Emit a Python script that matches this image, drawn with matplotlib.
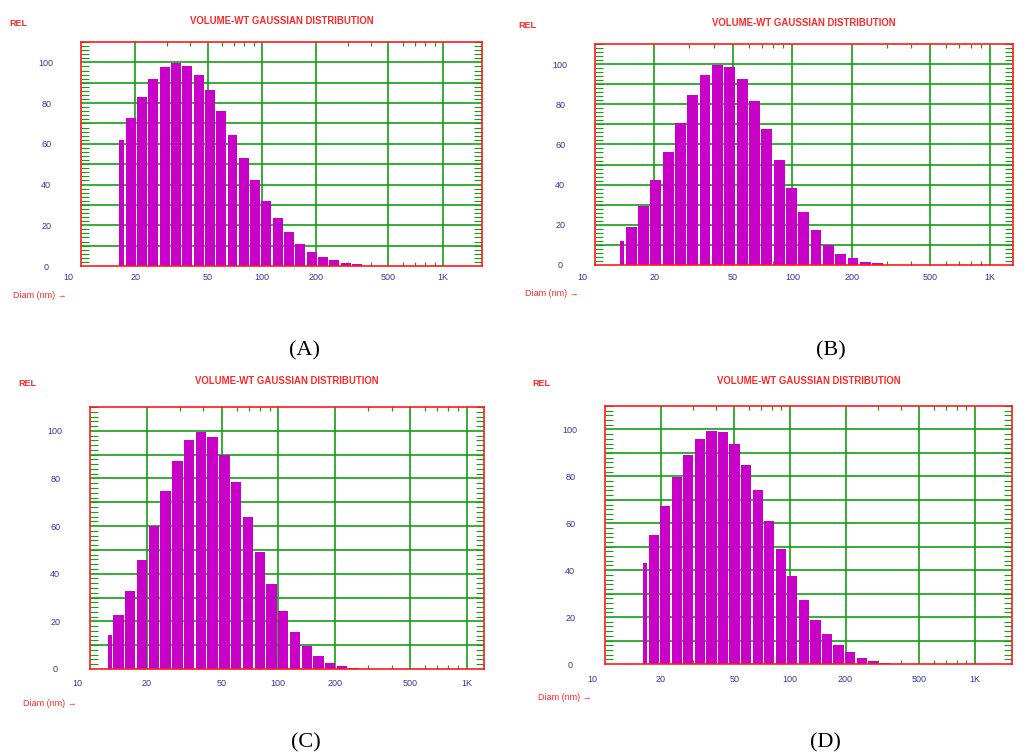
import matplotlib
matplotlib.use("Agg")
import matplotlib.pyplot as plt
import matplotlib.transforms as mtransforms
from matplotlib.ticker import NullFormatter
import numpy as np

# ---------------- data ----------------
TITLE = "VOLUME-WT GAUSSIAN DISTRIBUTION"
Y_NAME = "REL"
X_NAME = "Diam (nm) \u2192"
x_ticks = [10, 20, 50, 100, 200, 500, 1000]
x_ticklabels = ["10", "20", "50", "100", "200", "500", "1K"]
x_grid = [20, 50, 100, 200, 500, 1000]
x_minor = [30, 40, 60, 70, 80, 90, 300, 400, 600, 700, 800, 900]
y_ticks = [0, 20, 40, 60, 80, 100]
y_grid = [10, 20, 30, 40, 50, 60, 70, 80, 90, 100]
captions = ["(A)", "(B)", "(C)", "(D)"]

# bin-centre diameters (nm) and relative volume-weighted intensities
A_diam = [16.4, 19.0, 21.9, 25.3, 29.2, 33.7, 39.0, 45.0, 51.9, 60.0, 69.3,
          80.0, 92.4, 106.7, 123.2, 142.2, 164.3, 189.7, 219.0, 252.9, 292.1, 337.3]
A_rel = [61.7, 72.9, 82.9, 91.8, 97.5, 99.5, 98.4, 93.8, 86.2, 76.0, 64.5,
         53.1, 42.3, 31.9, 23.8, 16.8, 11.0, 7.1, 4.6, 2.8, 1.6, 0.8]
A_cut = 16.2

B_diam = [13.3, 15.4, 17.7, 20.5, 23.7, 27.3, 31.5, 36.4, 42.1, 48.6, 56.1,
          64.8, 74.8, 86.4, 99.8, 115.2, 133.0, 153.6, 177.4, 204.8, 236.5, 273.1]
B_rel = [11.7, 19.1, 29.3, 42.2, 56.1, 70.9, 84.8, 94.5, 99.5, 98.8, 92.6,
         81.6, 67.7, 52.3, 38.5, 26.6, 17.3, 10.0, 5.7, 3.4, 1.7, 0.8]
B_cut = 13.4

C_diam = [12.4, 14.3, 16.5, 19.05, 22.0, 25.4, 29.35, 33.9, 39.1, 45.2, 52.2,
          60.3, 69.6, 80.35, 92.8, 107.2, 123.7, 142.9, 165.0, 190.5, 220.0, 254.1]
C_rel = [14.3, 22.5, 32.6, 45.9, 60.0, 74.7, 87.5, 96.2, 99.4, 97.6, 90.0,
         78.7, 63.8, 49.0, 35.8, 24.3, 15.4, 9.6, 5.3, 2.7, 1.3, 0.5]
C_cut = 12.5

D_diam = [16.0, 18.5, 21.4, 24.7, 28.5, 32.9, 38.0, 43.85, 50.6, 58.5, 67.5,
          78.0, 90.05, 104.0, 120.1, 138.7, 160.1, 184.9, 213.6, 246.6, 284.8, 328.9]
D_rel = [42.9, 54.9, 67.4, 79.6, 89.3, 96.1, 99.4, 98.9, 94.0, 84.7, 74.0,
         61.1, 48.9, 37.6, 27.4, 18.9, 12.9, 8.3, 5.3, 2.6, 1.3, 0.6]
D_cut = 16.1

# ---------------- style / layout ----------------
W, H, DPI = 1032, 753, 100
GREEN = "#14a014"
RED = "#ff1a1a"
MAGENTA = "#c800c8"
BLUE = "#35359c"
TEXT_RED = "#ff2a2a"
HALF = 1.0 / 32.0      # half bin width in decades (16 bins / decade)
GAP = 0.0075           # white gap between bars in decades

# box (left, top, right, bottom) in pixels, x max, label offsets
panels = [
    dict(diam=A_diam, rel=A_rel, cut=A_cut, box=(81, 42, 482, 266), xmax=1643,
         title_y=20.5, rel_xy=(9, 23), diam_xy=(13, 295), xlab_dy=12, cap=(304, 355)),
    dict(diam=B_diam, rel=B_rel, cut=B_cut, box=(595, 44, 1013, 265), xmax=1312,
         title_y=23.5, rel_xy=(518, 25), diam_xy=(525, 294), xlab_dy=12.5, cap=(831, 355)),
    dict(diam=C_diam, rel=C_rel, cut=C_cut, box=(90, 407, 484, 669), xmax=1237,
         title_y=381.5, rel_xy=(18, 384), diam_xy=(23, 703), xlab_dy=15, cap=(306, 747)),
    dict(diam=D_diam, rel=D_rel, cut=D_cut, box=(605, 406, 1012, 664), xmax=1590,
         title_y=381, rel_xy=(532, 384), diam_xy=(538, 698), xlab_dy=15, cap=(825, 747)),
]

plt.rcParams["font.family"] = ["Liberation Sans", "DejaVu Sans"]

fig = plt.figure(figsize=(W / DPI, H / DPI), dpi=DPI, facecolor="white")


def fx(px):
    return px / W


def fy(py):
    return 1 - py / H


for p, cap in zip(panels, captions):
    l, t, r, b = p["box"]
    ax = fig.add_axes([fx(l), fy(b), (r - l) / W, (b - t) / H])
    ax.set_xscale("log")
    ax.set_xlim(10, p["xmax"])
    ax.set_ylim(0, 110)

    # grid lines
    for v in y_grid:
        ax.axhline(v, color=GREEN, lw=1.2, zorder=1)
    for v in x_grid:
        ax.axvline(v, color=GREEN, lw=1.2, zorder=1)

    # bars
    d = np.array(p["diam"], dtype=float)
    left = d * 10 ** (-HALF)
    right = d * 10 ** (HALF - GAP)
    left[0] = p["cut"]
    ax.bar(left, p["rel"], width=right - left, align="edge",
           color=MAGENTA, linewidth=0, zorder=2)

    # spines
    for s in ax.spines.values():
        s.set_color(RED)
        s.set_linewidth(1.2)
        s.set_zorder(5)

    # x ticks
    ax.set_xticks(x_ticks)
    ax.set_xticklabels([])
    ax.set_xticks(x_minor, minor=True)
    ax.xaxis.set_minor_formatter(NullFormatter())
    ax.tick_params(axis="x", which="major", length=0)
    ax.tick_params(axis="x", which="minor", direction="in", length=3.2,
                   width=0.9, color=GREEN, top=True, bottom=True)
    # x tick labels as text, "10" sits slightly left of the axis start
    trans = mtransforms.blended_transform_factory(ax.transData, ax.transAxes)
    for v, lab in zip(x_ticks, x_ticklabels):
        dx = -13 if v == 10 else 0
        off = mtransforms.ScaledTranslation(dx / DPI, -p["xlab_dy"] / DPI,
                                            fig.dpi_scale_trans)
        ax.text(v, 0, lab, transform=trans + off, ha="center", va="center",
                fontsize=6.5, color=BLUE, clip_on=False)

    # y ticks
    ax.set_yticks(y_ticks)
    ax.set_yticklabels([str(v) for v in y_ticks])
    ax.set_yticks(np.arange(0, 111, 2), minor=True)
    ax.tick_params(axis="y", which="major", length=0, pad=25,
                   labelsize=6.5, labelcolor=BLUE)
    for lab in ax.get_yticklabels():
        lab.set_horizontalalignment("center")
    ax.tick_params(axis="y", which="minor", direction="in", length=5.5,
                   width=0.8, color=GREEN, left=True, right=True)

    # texts
    fig.text(fx((l + r) / 2), fy(p["title_y"]), TITLE, ha="center", va="center",
             fontsize=6.9, fontweight="bold", color=TEXT_RED)
    fig.text(fx(p["rel_xy"][0]), fy(p["rel_xy"][1]), Y_NAME, ha="left", va="center",
             fontsize=6.5, fontweight="bold", color=TEXT_RED)
    fig.text(fx(p["diam_xy"][0]), fy(p["diam_xy"][1]), X_NAME, ha="left", va="center",
             fontsize=6.5, color=TEXT_RED)
    fig.text(fx(p["cap"][0]), fy(p["cap"][1]), cap, ha="center", va="baseline",
             fontsize=16, family=["Liberation Serif", "DejaVu Serif"], color="black")

fig.savefig("out.png", dpi=DPI, facecolor="white")
